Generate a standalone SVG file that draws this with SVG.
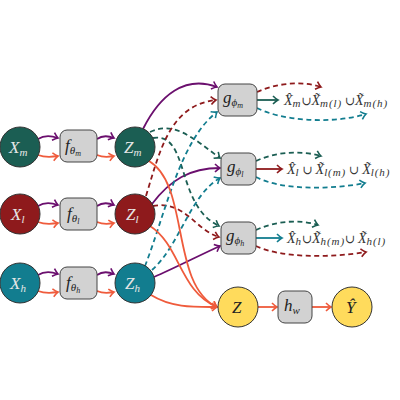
<svg xmlns="http://www.w3.org/2000/svg" width="400" height="400" viewBox="0 0 400 400">
<style>
.m{font-family:"Liberation Serif","DejaVu Serif",serif;font-style:italic}
.lbl{font-size:17px;fill:#e6e6e6}
.blbl{font-size:17px;fill:#222}
.out{font-size:14px;fill:#333}
.sub{font-size:11px;letter-spacing:0.9px}
.box{fill:#d2d2d2;stroke:#444;stroke-width:1}
.cir{stroke:#333;stroke-width:1}
.s{fill:none;stroke-width:1.8}
.d{fill:none;stroke-width:1.8;stroke-dasharray:5 3.5}
.pu{stroke:#6b0f6e}
.or{stroke:#ef5b3c}
.te{stroke:#1b5e53}
.re{stroke:#8e1a1c}
.cy{stroke:#127d8f}
.up{font-style:normal;font-size:12px}
</style>
<defs>
<marker id="aPu" markerUnits="userSpaceOnUse" markerWidth="12" markerHeight="12" refX="7" refY="6" orient="auto"><path d="M2,2 Q5,5 7,6 Q5,7 2,10" fill="none" stroke="#6b0f6e" stroke-width="1.6"/></marker>
<marker id="aOr" markerUnits="userSpaceOnUse" markerWidth="12" markerHeight="12" refX="7" refY="6" orient="auto"><path d="M2,2 Q5,5 7,6 Q5,7 2,10" fill="none" stroke="#ef5b3c" stroke-width="1.6"/></marker>
<marker id="aTe" markerUnits="userSpaceOnUse" markerWidth="12" markerHeight="12" refX="7" refY="6" orient="auto"><path d="M2,2 Q5,5 7,6 Q5,7 2,10" fill="none" stroke="#1b5e53" stroke-width="1.6"/></marker>
<marker id="aRe" markerUnits="userSpaceOnUse" markerWidth="12" markerHeight="12" refX="7" refY="6" orient="auto"><path d="M2,2 Q5,5 7,6 Q5,7 2,10" fill="none" stroke="#8e1a1c" stroke-width="1.6"/></marker>
<marker id="aCy" markerUnits="userSpaceOnUse" markerWidth="12" markerHeight="12" refX="7" refY="6" orient="auto"><path d="M2,2 Q5,5 7,6 Q5,7 2,10" fill="none" stroke="#127d8f" stroke-width="1.6"/></marker>
</defs>
<rect width="400" height="400" fill="#fff"/>

<g id="connectors">
<path class="s pu" d="M38,139 Q46,134 58,138" marker-end="url(#aPu)"/>
<path class="s or" d="M38,155 Q46,158 58,156" marker-end="url(#aOr)"/>
<path class="s pu" d="M97,139 Q104,134 114,138" marker-end="url(#aPu)"/>
<path class="s or" d="M97,155 Q104,158 114,156" marker-end="url(#aOr)"/>
<path class="s pu" d="M38,206 Q46,201 58,205" marker-end="url(#aPu)"/>
<path class="s or" d="M38,222 Q46,225 58,223" marker-end="url(#aOr)"/>
<path class="s pu" d="M97,206 Q104,201 114,205" marker-end="url(#aPu)"/>
<path class="s or" d="M97,222 Q104,225 114,223" marker-end="url(#aOr)"/>
<path class="s pu" d="M38,275 Q46,270 58,274" marker-end="url(#aPu)"/>
<path class="s or" d="M38,291 Q46,294 58,292" marker-end="url(#aOr)"/>
<path class="s pu" d="M97,275 Q104,270 114,274" marker-end="url(#aPu)"/>
<path class="s or" d="M97,291 Q104,294 114,292" marker-end="url(#aOr)"/>

<path class="s pu" d="M143,129 C160,95 185,75 217,87" marker-end="url(#aPu)"/>
<path class="s pu" d="M152,204 C170,180 190,168 220,168" marker-end="url(#aPu)"/>
<path class="s pu" d="M154,277 C175,268 200,255 220,246" marker-end="url(#aPu)"/>
<path class="d te" d="M150,132 C175,120 195,140 220,158" marker-end="url(#aTe)"/>
<path class="d te" d="M153,138 C190,132 175,205 219,226" marker-end="url(#aTe)"/>
<path class="d re" d="M146,196 C160,150 170,105 216,100" marker-end="url(#aRe)"/>
<path class="d re" d="M153,206 C185,200 195,230 219,237" marker-end="url(#aRe)"/>
<path class="d cy" d="M145,266 C165,215 180,140 217,112" marker-end="url(#aCy)"/>
<path class="d cy" d="M152,270 C180,245 190,195 220,178" marker-end="url(#aCy)"/>

<path class="s or" d="M149,161 C190,185 170,285 217,307" marker-end="url(#aOr)"/>
<path class="s or" d="M150,226 C180,245 180,292 217,307" marker-end="url(#aOr)"/>
<path class="s or" d="M151,295 C172,308 195,307 217,307" marker-end="url(#aOr)"/>
<path class="s or" d="M258,307 L277,307" marker-end="url(#aOr)"/>
<path class="s or" d="M312,307 L331,307" marker-end="url(#aOr)"/>

<path class="s te" d="M257,100 L278,100" marker-end="url(#aTe)"/>
<path class="d re" d="M257,92 C275,84 300,80 321,87" marker-end="url(#aRe)"/>
<path class="d cy" d="M257,108 C280,120 330,125 366,114" marker-end="url(#aCy)"/>
<path class="s re" d="M256,169 L282,169" marker-end="url(#aRe)"/>
<path class="d te" d="M256,161 C275,152 300,150 321,156" marker-end="url(#aTe)"/>
<path class="d cy" d="M256,177 C280,190 330,190 365,183" marker-end="url(#aCy)"/>
<path class="s cy" d="M256,238 L282,238" marker-end="url(#aCy)"/>
<path class="d te" d="M256,230 C275,221 300,219 318,225" marker-end="url(#aTe)"/>
<path class="d re" d="M256,246 C280,258 330,258 366,252" marker-end="url(#aRe)"/>
</g>

<g id="Xm"><circle class="cir" cx="20" cy="147" r="20" fill="#1b5e53"/><text class="m lbl" x="9" y="153">X<tspan font-size="11" dy="3">m</tspan></text></g>
<g id="fm"><rect class="box" x="60" y="130" width="37" height="32" rx="7"/><text class="m blbl" x="65" y="151">f<tspan font-size="11" dy="3">θ</tspan><tspan font-size="8" dy="2">m</tspan></text></g>
<g id="Zm"><circle class="cir" cx="135" cy="147" r="20" fill="#1b5e53"/><text class="m lbl" x="124" y="153">Z<tspan font-size="11" dy="3">m</tspan></text></g>

<g id="Xl"><circle class="cir" cx="20" cy="214" r="20" fill="#8e1a1c"/><text class="m lbl" x="11" y="220">X<tspan font-size="11" dy="3">l</tspan></text></g>
<g id="fl"><rect class="box" x="60" y="198" width="37" height="32" rx="7"/><text class="m blbl" x="67" y="219">f<tspan font-size="11" dy="3">θ</tspan><tspan font-size="8" dy="2">l</tspan></text></g>
<g id="Zl"><circle class="cir" cx="135" cy="214" r="20" fill="#8e1a1c"/><text class="m lbl" x="126" y="220">Z<tspan font-size="11" dy="3">l</tspan></text></g>

<g id="Xh"><circle class="cir" cx="20" cy="283" r="20" fill="#127d8f"/><text class="m lbl" x="10" y="289">X<tspan font-size="11" dy="3">h</tspan></text></g>
<g id="fh"><rect class="box" x="60" y="267" width="37" height="32" rx="7"/><text class="m blbl" x="66" y="288">f<tspan font-size="11" dy="3">θ</tspan><tspan font-size="8" dy="2">h</tspan></text></g>
<g id="Zh"><circle class="cir" cx="135" cy="283" r="20" fill="#127d8f"/><text class="m lbl" x="125" y="289">Z<tspan font-size="11" dy="3">h</tspan></text></g>

<g id="gm"><rect class="box" x="218" y="84" width="39" height="32" rx="7"/><text class="m blbl" x="223" y="103">g<tspan font-size="11" dy="3">ϕ</tspan><tspan font-size="8" dy="2">m</tspan></text></g>
<g id="gl"><rect class="box" x="221" y="153" width="35" height="32" rx="7"/><text class="m blbl" x="227" y="172">g<tspan font-size="11" dy="3">ϕ</tspan><tspan font-size="8" dy="2">l</tspan></text></g>
<g id="gh"><rect class="box" x="221" y="222" width="35" height="32" rx="7"/><text class="m blbl" x="226" y="241">g<tspan font-size="11" dy="3">ϕ</tspan><tspan font-size="8" dy="2">h</tspan></text></g>

<g id="Z"><circle class="cir" cx="238" cy="307" r="20" fill="#ffdb5c"/><text class="m blbl" x="232" y="313">Z</text></g>
<g id="hw"><rect class="box" x="278" y="291" width="34" height="32" rx="7"/><text class="m blbl" x="284" y="311">h<tspan font-size="11" dy="3">w</tspan></text></g>
<g id="Yhat"><circle class="cir" cx="352" cy="307" r="20" fill="#ffdb5c"/><text class="m blbl" x="346" y="313">Ŷ</text></g>

<g id="outm"><text class="m out" x="284" y="105">X̂<tspan class="sub" dy="2">m</tspan><tspan class="up" dy="-2">∪</tspan>X̃<tspan class="sub" dy="2">m(l)</tspan><tspan class="up" dy="-2"> ∪</tspan>X̃<tspan class="sub" dy="2">m(h)</tspan></text></g>
<g id="outl"><text class="m out" x="287" y="174">X̂<tspan class="sub" dy="2">l</tspan><tspan class="up" dy="-2"> ∪ </tspan>X̃<tspan class="sub" dy="2">l(m)</tspan><tspan class="up" dy="-2"> ∪ </tspan>X̃<tspan class="sub" dy="2">l(h)</tspan></text></g>
<g id="outh"><text class="m out" x="287" y="243">X̂<tspan class="sub" dy="2">h</tspan><tspan class="up" dy="-2">∪</tspan>X̃<tspan class="sub" dy="2">h(m)</tspan><tspan class="up" dy="-2">∪ </tspan>X̃<tspan class="sub" dy="2">h(l)</tspan></text></g>
</svg>
